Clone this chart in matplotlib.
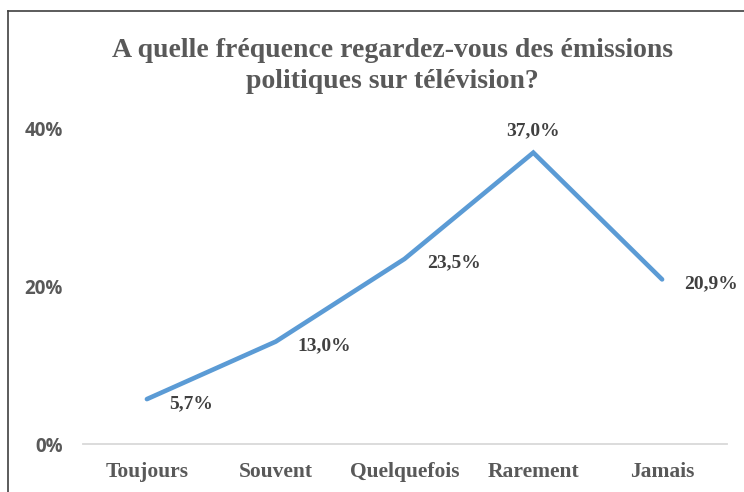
import matplotlib
matplotlib.use("Agg")
import matplotlib.pyplot as plt
from matplotlib.lines import Line2D
from matplotlib.ticker import FuncFormatter

# data
categories = ["Toujours", "Souvent", "Quelquefois", "Rarement", "Jamais"]
values = [5.7, 13.0, 23.5, 37.0, 20.9]
labels = ["5,7%", "13,0%", "23,5%", "37,0%", "20,9%"]
yticks = [0, 20, 40]

SERIF = ["Liberation Serif", "DejaVu Serif"]
SANS = ["Open Sans", "DejaVu Sans"]
GREY = "#595959"
BLUE = "#5B9BD5"

fig = plt.figure(figsize=(7.44, 4.92), dpi=100)
ax = fig.add_axes([82.5 / 744, 1 - 444 / 492, 644 / 744, 315 / 492])

x = list(range(len(categories)))
ax.plot(x, values, color=BLUE, lw=3.3, solid_capstyle="round",
        solid_joinstyle="miter", clip_on=False)

ax.set_xlim(-0.5, len(categories) - 0.5)
ax.set_ylim(0, 40)
ax.set_yticks(yticks)
ax.yaxis.set_major_formatter(FuncFormatter(lambda v, p: f"{v:.0f}%"))
ax.set_xticks(x)
ax.set_xticklabels(categories, family=SERIF, fontweight="bold",
                   fontsize=15.5, color=GREY)
for t in ax.get_yticklabels():
    t.set_family(SANS)
    t.set_fontweight("bold")
    t.set_fontsize(13.5)
    t.set_color(GREY)
ax.tick_params(axis="x", length=0, pad=13)
ax.tick_params(axis="y", length=0, pad=14)

for s in ["top", "right", "left"]:
    ax.spines[s].set_visible(False)
ax.spines["bottom"].set_color("#D9D9D9")
ax.spines["bottom"].set_linewidth(1.3)

# data labels: above for the peak, right of the point otherwise
for i, (v, lab) in enumerate(zip(values, labels)):
    if i == 3:
        ax.annotate(lab, (i, v), xytext=(0, 10), textcoords="offset points",
                    ha="center", va="bottom", family=SERIF, fontweight="bold",
                    fontsize=14, color="#404040")
    else:
        ax.annotate(lab, (i, v), xytext=(16, -3), textcoords="offset points",
                    ha="left", va="center", family=SERIF, fontweight="bold",
                    fontsize=14, color="#404040")

fig.text(392 / 744, 1 - 66 / 492,
         "A quelle fréquence regardez-vous des émissions\npolitiques sur télévision?",
         ha="center", va="center", family=SERIF, fontweight="bold",
         fontsize=20, color=GREY, linespacing=1.35)

# chart frame, cropped on the right and bottom
fig.add_artist(Line2D([8 / 744, 8 / 744], [0, 1 - 11 / 492],
                      transform=fig.transFigure, color="#404040", lw=1.2))
fig.add_artist(Line2D([8 / 744, 1], [1 - 11 / 492, 1 - 11 / 492],
                      transform=fig.transFigure, color="#404040", lw=1.2))

fig.savefig("out.png", dpi=100)
